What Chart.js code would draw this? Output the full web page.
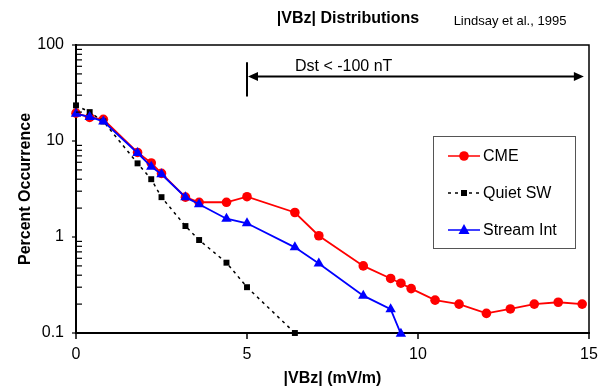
<!DOCTYPE html>
<html>
<head>
<meta charset="utf-8">
<script src="https://cdn.jsdelivr.net/npm/chart.js@4.4.1/dist/chart.umd.min.js"></script>
<style>
  body { margin: 0; background: #fff; }
  canvas { display: block; }
</style>
</head>
<body>
<canvas id="myChart" width="610" height="391"></canvas>
<script>
// |VBz| (mV/m) vs percent occurrence
var cmeX = [0, 0.4, 0.8, 1.8, 2.2, 2.5, 3.2, 3.6, 4.4, 5.0, 6.4, 7.1, 8.4, 9.2, 9.5, 9.8, 10.5, 11.2, 12.0, 12.7, 13.4, 14.1, 14.8];
var cmeY = [19.5, 17.6, 16.8, 7.6, 5.9, 4.6, 2.6, 2.3, 2.3, 2.63, 1.8, 1.03, 0.5, 0.37, 0.33, 0.29, 0.22, 0.2, 0.16, 0.178, 0.2, 0.209, 0.2];

var quietX = [0, 0.4, 0.8, 1.8, 2.2, 2.5, 3.2, 3.6, 4.4, 5.0, 6.4];
var quietY = [23.5, 20, 16, 5.85, 4.0, 2.6, 1.3, 0.93, 0.54, 0.3, 0.1];

var streamX = [0, 0.4, 0.8, 1.8, 2.2, 2.5, 3.2, 3.6, 4.4, 5.0, 6.4, 7.1, 8.4, 9.2, 9.5];
var streamY = [19.2, 17.8, 16.0, 7.5, 5.4, 4.5, 2.6, 2.19, 1.55, 1.39, 0.78, 0.53, 0.245, 0.177, 0.098];

var yTicks = [0.1, 1, 10, 100];
var yTickLabels = ["0.1", "1", "10", "100"];
var xTicks = [0, 5, 10, 15];

// flecha "Dst < -100 nT" (en unidades de los ejes)
var dstX = [5, 14.85];
var dstY = 47;
var dstBar = [66, 29];

var FONT = "'Liberation Sans', Arial, sans-serif";

function toPoints(xs, ys) {
  return xs.map(function (v, i) { return { x: v, y: ys[i] }; });
}

function drawMarker(ctx, style, cx, cy) {
  ctx.save();
  ctx.fillStyle = style.color;
  ctx.beginPath();
  if (style.shape === "circle") {
    ctx.arc(cx, cy, 4.8, 0, Math.PI * 2);
  } else if (style.shape === "rect") {
    ctx.rect(cx - 3, cy - 3, 6, 6);
  } else {
    ctx.moveTo(cx, cy - 6);
    ctx.lineTo(cx + 5.5, cy + 4);
    ctx.lineTo(cx - 5.5, cy + 4);
    ctx.closePath();
  }
  ctx.fill();
  ctx.restore();
}

var legendItems = [
  { text: "CME", color: "#ff0000", shape: "circle", dash: [] },
  { text: "Quiet SW", color: "#000000", shape: "rect", dash: [3, 4] },
  { text: "Stream Int", color: "#0000ff", shape: "triangle", dash: [] },
];

var decoraciones = {
  id: "decoraciones",
  afterDraw: function (chart) {
    var ctx = chart.ctx;
    var area = chart.chartArea;
    var x = chart.scales.x;
    var y = chart.scales.y;
    ctx.save();
    ctx.strokeStyle = "#000";
    ctx.lineWidth = 1.5;

    // marco superior y derecho
    ctx.beginPath();
    ctx.moveTo(area.left, area.top);
    ctx.lineTo(area.right, area.top);
    ctx.lineTo(area.right, area.bottom);
    ctx.stroke();

    // marcas del eje y (menores hacia dentro)
    ctx.lineWidth = 1.2;
    for (var d = 0; d < yTicks.length; d++) {
      var py = y.getPixelForValue(yTicks[d]);
      ctx.beginPath();
      ctx.moveTo(area.left - 4, py);
      ctx.lineTo(area.left, py);
      ctx.stroke();
      if (d < yTicks.length - 1) {
        for (var m = 2; m <= 9; m++) {
          var pm = y.getPixelForValue(yTicks[d] * m);
          ctx.beginPath();
          ctx.moveTo(area.left, pm);
          ctx.lineTo(area.left + 6, pm);
          ctx.stroke();
        }
      }
    }
    // marcas del eje x
    ctx.lineWidth = 1.5;
    xTicks.forEach(function (v) {
      var px = x.getPixelForValue(v);
      ctx.beginPath();
      ctx.moveTo(px, area.bottom);
      ctx.lineTo(px, area.bottom + 6);
      ctx.stroke();
    });

    // flecha Dst
    var x0 = x.getPixelForValue(dstX[0]);
    var x1 = x.getPixelForValue(dstX[1]);
    var ay = y.getPixelForValue(dstY);
    ctx.lineWidth = 2;
    ctx.beginPath();
    ctx.moveTo(x0, y.getPixelForValue(dstBar[0]));
    ctx.lineTo(x0, y.getPixelForValue(dstBar[1]));
    ctx.moveTo(x0 + 8, ay);
    ctx.lineTo(x1 - 8, ay);
    ctx.stroke();
    ctx.fillStyle = "#000";
    ctx.beginPath();
    ctx.moveTo(x0 + 1, ay);
    ctx.lineTo(x0 + 11, ay - 4.5);
    ctx.lineTo(x0 + 11, ay + 4.5);
    ctx.closePath();
    ctx.moveTo(x1, ay);
    ctx.lineTo(x1 - 10, ay - 4.5);
    ctx.lineTo(x1 - 10, ay + 4.5);
    ctx.closePath();
    ctx.fill();
    ctx.font = "16px " + FONT;
    ctx.textAlign = "left";
    ctx.textBaseline = "middle";
    ctx.fillText("Dst < -100 nT", x0 + 48, ay - 10);

    // leyenda
    var lx = area.right - 156;
    var ly = area.top + 91;
    ctx.lineWidth = 1;
    ctx.strokeStyle = "#555";
    ctx.strokeRect(lx + 0.5, ly + 0.5, 142, 112);
    legendItems.forEach(function (item, i) {
      var cy = ly + 20 + i * 37;
      ctx.strokeStyle = item.color;
      ctx.lineWidth = 1.5;
      ctx.setLineDash(item.dash);
      ctx.beginPath();
      ctx.moveTo(lx + 15, cy);
      ctx.lineTo(lx + 47, cy);
      ctx.stroke();
      ctx.setLineDash([]);
      drawMarker(ctx, item, lx + 31, cy);
      ctx.fillStyle = "#000";
      ctx.font = "16px " + FONT;
      ctx.textAlign = "left";
      ctx.fillText(item.text, lx + 50, cy + 1);
    });

    // titulos
    ctx.fillStyle = "#000";
    ctx.textAlign = "center";
    ctx.font = "bold 16px " + FONT;
    ctx.fillText("|VBz| Distributions", 348, 19);
    ctx.font = "13px " + FONT;
    ctx.fillText("Lindsay et al., 1995", 510, 21);
    ctx.font = "bold 16px " + FONT;
    ctx.fillText("|VBz| (mV/m)", (area.left + area.right) / 2, 379);
    ctx.save();
    ctx.translate(26, (area.top + area.bottom) / 2);
    ctx.rotate(-Math.PI / 2);
    ctx.fillText("Percent Occurrence", 0, 0);
    ctx.restore();

    ctx.restore();
  },
};

Chart.defaults.font.family = FONT;
Chart.defaults.color = "#000";

var ctx = document.getElementById("myChart").getContext("2d");
new Chart(ctx, {
  type: "line",
  data: {
    datasets: [
      {
        label: "CME",
        data: toPoints(cmeX, cmeY),
        borderColor: "#ff0000",
        backgroundColor: "#ff0000",
        borderWidth: 1.8,
        pointStyle: "circle",
        pointRadius: 4.8,
        pointBorderWidth: 0,
        order: 2,
        clip: false,
      },
      {
        label: "Quiet SW",
        data: toPoints(quietX, quietY),
        borderColor: "#000000",
        backgroundColor: "#000000",
        borderWidth: 1.5,
        borderDash: [3, 4],
        pointStyle: "rect",
        pointRadius: 4.2,
        pointBorderWidth: 0,
        order: 1,
        clip: false,
      },
      {
        label: "Stream Int",
        data: toPoints(streamX, streamY),
        borderColor: "#0000ff",
        backgroundColor: "#0000ff",
        borderWidth: 1.8,
        pointStyle: "triangle",
        pointRadius: 6,
        pointBorderWidth: 0,
        order: 0,
        clip: false,
      },
    ],
  },
  options: {
    responsive: false,
    animation: false,
    layout: { padding: { top: 45, right: 21, left: 0, bottom: 0 } },
    plugins: { legend: { display: false }, tooltip: { enabled: false } },
    scales: {
      x: {
        type: "linear",
        min: 0,
        max: 15,
        afterBuildTicks: function (scale) {
          scale.ticks = xTicks.map(function (v) { return { value: v }; });
        },
        afterFit: function (scale) { scale.height = 58; },
        grid: { display: false, drawTicks: false },
        border: { display: true, color: "#000", width: 2 },
        ticks: { padding: 12, font: { size: 16 }, color: "#000" },
      },
      y: {
        type: "logarithmic",
        min: 0.1,
        max: 100,
        afterBuildTicks: function (scale) {
          scale.ticks = yTicks.map(function (v) { return { value: v }; });
        },
        afterFit: function (scale) { scale.width = 76; },
        grid: { display: false, drawTicks: false },
        border: { display: true, color: "#000", width: 2 },
        ticks: {
          padding: 12,
          font: { size: 16 },
          color: "#000",
          callback: function (value, index) { return yTickLabels[index]; },
        },
      },
    },
  },
  plugins: [decoraciones],
});
</script>
</body>
</html>
